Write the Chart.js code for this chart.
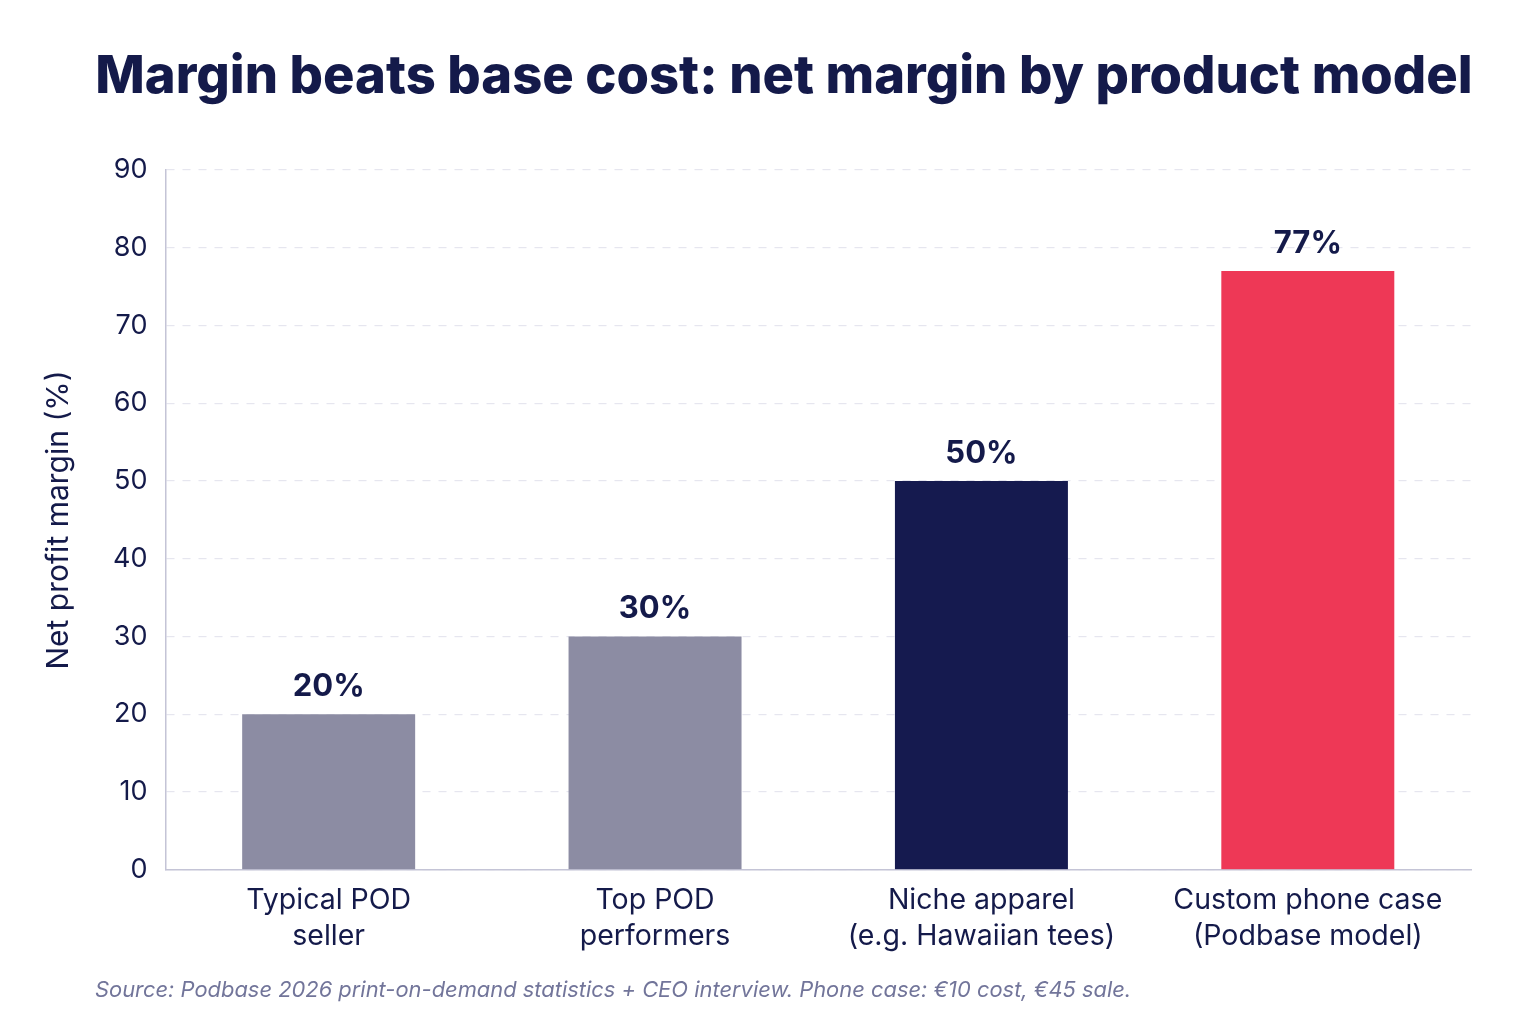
<!DOCTYPE html>
<html>
<head>
<meta charset="utf-8">
<script src="https://cdn.jsdelivr.net/npm/chart.js@4"></script>
<style>
  html, body { margin: 0; padding: 0; background: #fff; }
  #wrap { width: 1536px; height: 1024px; }
</style>
</head>
<body>
<div id="wrap"><canvas id="chart"></canvas></div>
<script>
const categories = [
  ['Typical POD', 'seller'],
  ['Top POD', 'performers'],
  ['Niche apparel', '(e.g. Hawaiian tees)'],
  ['Custom phone case', '(Podbase model)']
];
const margins = [20, 30, 50, 77];
const barColors = ['#8c8ca3', '#8c8ca3', '#151a4f', '#ee3856'];
const yTicks = [0, 10, 20, 30, 40, 50, 60, 70, 80, 90];

const titleText = 'Margin beats base cost: net margin by product model';
const sourceText = 'Source: Podbase 2026 print-on-demand statistics + CEO interview. Phone case: €10 cost, €45 sale.';

const navy = '#141a4a';
const fontFamily = 'Inter, "Noto Sans", sans-serif';

// "20%" etc. above each bar, plus the heading and the source line
const annotations = {
  id: 'annotations',
  afterDatasetsDraw(chart) {
    const ctx = chart.ctx;
    const meta = chart.getDatasetMeta(0);
    ctx.save();
    ctx.font = 'bold 31px ' + fontFamily;
    ctx.fillStyle = navy;
    ctx.textAlign = 'center';
    ctx.textBaseline = 'bottom';
    meta.data.forEach((bar, i) => {
      ctx.fillText(margins[i] + '%', bar.x, bar.y - 12);
    });
    ctx.restore();
  },
  afterDraw(chart) {
    const ctx = chart.ctx;
    ctx.save();
    ctx.fillStyle = navy;
    ctx.font = '800 52.5px ' + fontFamily;
    ctx.textAlign = 'center';
    ctx.textBaseline = 'alphabetic';
    ctx.fillText(titleText, 784, 93);

    ctx.fillStyle = '#72759a';
    ctx.font = 'italic 21.9px ' + fontFamily;
    ctx.textAlign = 'left';
    ctx.textBaseline = 'middle';
    ctx.fillText(sourceText, 95, 990);
    ctx.restore();
  }
};

new Chart(document.getElementById('chart'), {
  type: 'bar',
  data: {
    labels: categories,
    datasets: [{
      data: margins,
      backgroundColor: barColors,
      borderWidth: 0,
      barPercentage: 0.53,
      categoryPercentage: 1
    }]
  },
  options: {
    responsive: true,
    maintainAspectRatio: false,
    animation: false,
    layout: { padding: { left: 37, right: 65, top: 170, bottom: 65 } },
    plugins: {
      legend: { display: false },
      tooltip: { enabled: false }
    },
    scales: {
      x: {
        grid: { display: false },
        border: { color: '#c4c4d6', width: 1.5 },
        ticks: {
          color: navy,
          font: { family: fontFamily, size: 28.5, lineHeight: 1.25 },
          padding: 5
        }
      },
      y: {
        min: 0,
        max: 90,
        afterBuildTicks(axis) {
          axis.ticks = yTicks.map(v => ({ value: v }));
        },
        grid: { color: '#e6e6ef', lineWidth: 1.2, drawTicks: false },
        border: { color: '#c4c4d6', width: 1.5, dash: [8, 8] },
        ticks: {
          color: navy,
          font: { family: fontFamily, size: 27 },
          padding: 18
        },
        title: {
          display: true,
          text: 'Net profit margin (%)',
          color: navy,
          font: { family: fontFamily, size: 30 },
          padding: { bottom: 18 }
        }
      }
    }
  },
  plugins: [annotations]
});
</script>
</body>
</html>
